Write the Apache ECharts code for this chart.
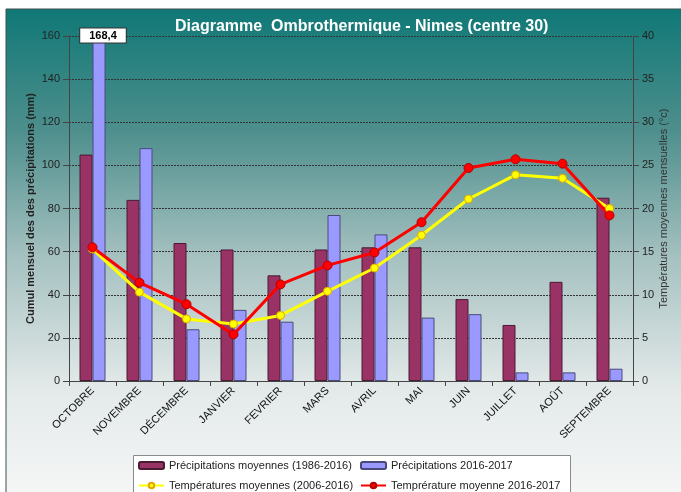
<!DOCTYPE html>
<html>
<head>
<meta charset="utf-8">
<script src="https://cdn.jsdelivr.net/npm/echarts@6/dist/echarts.min.js"></script>
<style>
  html, body { margin: 0; padding: 0; background: #fff; }
  #chart { width: 681px; height: 492px; }
</style>
</head>
<body>
<div id="chart"></div>
<script>
var months = ["OCTOBRE", "NOVEMBRE", "DÉCEMBRE", "JANVIER", "FEVRIER", "MARS", "AVRIL", "MAI", "JUIN", "JUILLET", "AOÛT", "SEPTEMBRE"];
var precipMoy = [105, 84, 64, 61, 49, 61, 62, 62, 38, 26, 46, 85];
var precip1617 = [168.4, 108, 24, 33, 27.5, 77, 68, 29.4, 31, 4, 4, 5.7];
var tempMoy = [15.3, 10.3, 7.2, 6.6, 7.6, 10.4, 13.1, 16.9, 21.1, 23.9, 23.5, 20.0];
var temp1617 = [15.5, 11.4, 8.9, 5.4, 11.2, 13.4, 14.9, 18.4, 24.7, 25.7, 25.2, 19.2];
var precipMax = 160;
var tempMax = 40;

var chartDom = document.getElementById("chart");
var myChart = echarts.init(chartDom);
var font = "Liberation Sans, Arial, sans-serif";

// bars above the axis max are clipped, their value goes in a box at the top
var precip1617Data = precip1617.map(function (v) {
  if (v <= precipMax) return v;
  return {
    value: v,
    label: {
      show: true,
      position: "insideTop",
      offset: [4, -12],
      formatter: function (p) { return String(p.value).replace(".", ","); },
      backgroundColor: "#fff",
      borderColor: "#333",
      borderWidth: 1,
      padding: [1, 9],
      color: "#000",
      fontWeight: "bold",
      fontSize: 11,
      lineHeight: 12,
      fontFamily: font,
    },
  };
});

var legendCommon = {
  orient: "vertical",
  top: 460,
  height: 44,
  padding: 0,
  itemWidth: 25,
  itemHeight: 7,
  itemGap: 9,
  textStyle: { fontSize: 11, color: "#222", fontFamily: font },
};

var option = {
  animation: false,
  textStyle: { fontFamily: font },
  graphic: [
    {
      type: "rect",
      z: -10,
      shape: { x: 6, y: 9, width: 680, height: 490 },
      style: {
        fill: new echarts.graphic.LinearGradient(0, 0, 0, 1, [
          { offset: 0, color: "#0f7876" },
          { offset: 0.25, color: "#4e8f8d" },
          { offset: 0.5, color: "#a3c0bf" },
          { offset: 0.77, color: "#e3e9e9" },
          { offset: 1, color: "#f6f7f7" },
        ]),
        stroke: "#3c5050",
        lineWidth: 1,
      },
    },
    {
      type: "rect",
      z: 3,
      shape: { x: 133.5, y: 455.5, width: 437, height: 45 },
      style: { fill: "#fff", stroke: "#8a8a8a", lineWidth: 1 },
    },
  ],
  title: {
    text: "Diagramme  Ombrothermique - Nimes (centre 30)",
    left: 170,
    top: 14,
    textStyle: { color: "#fff", fontSize: 16, fontWeight: "bold", fontFamily: font },
  },
  legend: [
    Object.assign({}, legendCommon, {
      left: 138,
      data: ["Précipitations moyennes (1986-2016)", "Températures moyennes (2006-2016)"],
    }),
    Object.assign({}, legendCommon, {
      left: 360,
      data: ["Précipitations 2016-2017", "Temprérature moyenne 2016-2017"],
    }),
  ],
  grid: { left: 69, right: 48, top: 36, bottom: 111 },
  xAxis: {
    type: "category",
    data: months,
    boundaryGap: true,
    axisLine: { lineStyle: { color: "#444" } },
    axisTick: { show: true, length: 5, lineStyle: { color: "#444" } },
    axisLabel: { rotate: 45, fontSize: 11, color: "#111", margin: 8, interval: 0 },
  },
  yAxis: [
    {
      type: "value",
      min: 0,
      max: precipMax,
      interval: 20,
      name: "Cumul mensuel des des précipitations (mm)",
      nameLocation: "middle",
      nameRotate: 90,
      nameGap: 33,
      nameMoveOverlap: false,
      nameTextStyle: { fontSize: 11, fontWeight: "bold", color: "#222" },
      axisLine: { show: true, lineStyle: { color: "#444" } },
      axisTick: { show: true, length: 6, lineStyle: { color: "#444" } },
      axisLabel: { fontSize: 11, color: "#222", margin: 9 },
      splitLine: { show: true, lineStyle: { color: "#333", type: [2, 1], width: 1 } },
    },
    {
      type: "value",
      min: 0,
      max: tempMax,
      interval: 5,
      name: "Températures moyennes mensuelles (°c)",
      nameLocation: "middle",
      nameRotate: 90,
      nameGap: 25,
      nameMoveOverlap: false,
      nameTextStyle: { fontSize: 11, color: "#333" },
      axisLine: { show: true, lineStyle: { color: "#444" } },
      axisTick: { show: true, length: 6, lineStyle: { color: "#444" } },
      axisLabel: { fontSize: 11, color: "#222", margin: 9 },
      splitLine: { show: false },
    },
  ],
  series: [
    {
      name: "Précipitations moyennes (1986-2016)",
      type: "bar",
      barWidth: 13,
      barGap: "0%",
      itemStyle: { color: "#993366", borderColor: "#4a1a33", borderWidth: 1 },
      data: precipMoy,
    },
    {
      name: "Précipitations 2016-2017",
      type: "bar",
      barWidth: 13,
      barGap: "0%",
      itemStyle: { color: "#9999ff", borderColor: "#4a4a7a", borderWidth: 1 },
      data: precip1617Data,
    },
    {
      name: "Températures moyennes (2006-2016)",
      type: "line",
      yAxisIndex: 1,
      symbol: "circle",
      symbolSize: 8,
      lineStyle: { color: "#ffff00", width: 3 },
      itemStyle: { color: "#ffff00", borderColor: "#e0a800", borderWidth: 1 },
      data: tempMoy,
    },
    {
      name: "Temprérature moyenne 2016-2017",
      type: "line",
      yAxisIndex: 1,
      symbol: "circle",
      symbolSize: 9,
      lineStyle: { color: "#ff0000", width: 3 },
      itemStyle: { color: "#ff0000", borderColor: "#b00000", borderWidth: 1 },
      data: temp1617,
    },
  ],
};

option && myChart.setOption(option);
</script>
</body>
</html>
